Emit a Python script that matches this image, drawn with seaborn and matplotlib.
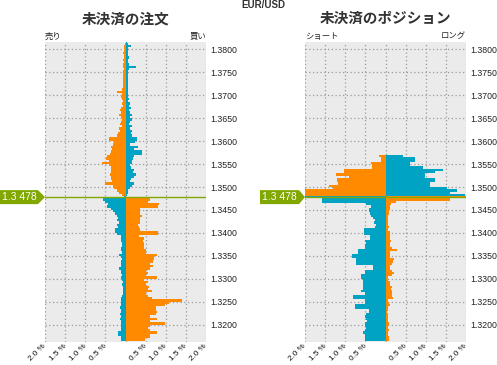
import numpy as np
import pandas as pd
import matplotlib
matplotlib.use('Agg')
import matplotlib.pyplot as plt
import seaborn as sns
from matplotlib.patches import Polygon
from matplotlib.transforms import blended_transform_factory

sns.set_style('white')
plt.rcParams['font.family'] = ['Liberation Sans', 'Noto Sans CJK JP', 'DejaVu Sans']

# ---------------- data ----------------
pair = "EUR/USD"
current_price = 1.3478
current_label = "1.3 478"
bucket = 0.0005

# lower edges of the price buckets (top to bottom)
price_levels = [
    1.3815, 1.3810, 1.3805, 1.3800, 1.3795, 1.3790, 1.3785, 1.3780, 1.3775, 1.3770,
    1.3765, 1.3760, 1.3755, 1.3750, 1.3745, 1.3740, 1.3735, 1.3730, 1.3725, 1.3720,
    1.3715, 1.3710, 1.3705, 1.3700, 1.3695, 1.3690, 1.3685, 1.3680, 1.3675, 1.3670,
    1.3665, 1.3660, 1.3655, 1.3650, 1.3645, 1.3640, 1.3635, 1.3630, 1.3625, 1.3620,
    1.3615, 1.3610, 1.3605, 1.3600, 1.3595, 1.3590, 1.3585, 1.3580, 1.3575, 1.3570,
    1.3565, 1.3560, 1.3555, 1.3550, 1.3545, 1.3540, 1.3535, 1.3530, 1.3525, 1.3520,
    1.3515, 1.3510, 1.3505, 1.3500, 1.3495, 1.3490, 1.3485, 1.3480, 1.3475, 1.3470,
    1.3465, 1.3460, 1.3455, 1.3450, 1.3445, 1.3440, 1.3435, 1.3430, 1.3425, 1.3420,
    1.3415, 1.3410, 1.3405, 1.3400, 1.3395, 1.3390, 1.3385, 1.3380, 1.3375, 1.3370,
    1.3365, 1.3360, 1.3355, 1.3350, 1.3345, 1.3340, 1.3335, 1.3330, 1.3325, 1.3320,
    1.3315, 1.3310, 1.3305, 1.3300, 1.3295, 1.3290, 1.3285, 1.3280, 1.3275, 1.3270,
    1.3265, 1.3260, 1.3255, 1.3250, 1.3245, 1.3240, 1.3235, 1.3230, 1.3225, 1.3220,
    1.3215, 1.3210, 1.3205, 1.3200, 1.3195, 1.3190, 1.3185, 1.3180, 1.3175, 1.3170,
    1.3165,
]

# open orders (%): left side / right side
orders_left = [
    0.00, 0.02, 0.03, 0.04, 0.03, 0.05, 0.04, 0.03, 0.05, 0.04,
    0.06, 0.05, 0.04, 0.06, 0.05, 0.07, 0.05, 0.06, 0.05, 0.07,
    0.06, 0.08, 0.22, 0.09, 0.12, 0.08, 0.06, 0.09, 0.07, 0.10,
    0.13, 0.10, 0.17, 0.12, 0.08, 0.11, 0.14, 0.09, 0.15, 0.13,
    0.18, 0.22, 0.42, 0.42, 0.29, 0.30, 0.35, 0.33, 0.35, 0.38,
    0.45, 0.48, 0.40, 0.58, 0.40, 0.37, 0.37, 0.36, 0.38, 0.35,
    0.37, 0.34, 0.50, 0.30, 0.28, 0.22, 0.15, 0.08, 0.03, 0.55,
    0.50, 0.43, 0.45, 0.35, 0.30, 0.25, 0.22, 0.18, 0.20, 0.17,
    0.22, 0.18, 0.25, 0.25, 0.20, 0.12, 0.10, 0.12, 0.09, 0.08,
    0.12, 0.10, 0.08, 0.15, 0.10, 0.08, 0.12, 0.10, 0.12, 0.17,
    0.12, 0.10, 0.09, 0.10, 0.08, 0.07, 0.08, 0.07, 0.06, 0.07,
    0.06, 0.08, 0.10, 0.12, 0.10, 0.12, 0.14, 0.10, 0.12, 0.14,
    0.11, 0.13, 0.12, 0.10, 0.12, 0.10, 0.12, 0.18, 0.18, 0.10,
    0.10,
]
orders_right = [
    0.04, 0.05, 0.13, 0.06, 0.05, 0.07, 0.06, 0.08, 0.05, 0.07,
    0.08, 0.26, 0.08, 0.05, 0.06, 0.05, 0.07, 0.06, 0.05, 0.06,
    0.07, 0.05, 0.06, 0.07, 0.05, 0.08, 0.06, 0.10, 0.08, 0.13,
    0.09, 0.12, 0.15, 0.10, 0.17, 0.12, 0.09, 0.15, 0.11, 0.17,
    0.13, 0.15, 0.29, 0.28, 0.24, 0.12, 0.32, 0.22, 0.42, 0.42,
    0.20, 0.18, 0.15, 0.16, 0.12, 0.13, 0.22, 0.18, 0.27, 0.20,
    0.14, 0.10, 0.22, 0.15, 0.10, 0.07, 0.05, 0.03, 0.00, 0.60,
    0.55, 0.83, 0.80, 0.37, 0.37, 0.35, 0.40, 0.35, 0.35, 0.35,
    0.30, 0.33, 0.35, 0.80, 0.80, 0.34, 0.45, 0.44, 0.46, 0.45,
    0.47, 0.50, 0.52, 0.78, 0.70, 0.72, 0.68, 0.62, 0.68, 0.60,
    0.52, 0.55, 0.50, 0.78, 0.45, 0.55, 0.50, 0.58, 0.55, 0.65,
    0.52, 0.55, 0.65, 1.40, 1.07, 0.98, 0.76, 0.75, 0.78, 0.75,
    0.60, 0.78, 0.62, 0.99, 0.60, 0.55, 0.60, 0.78, 0.62, 0.60,
    0.49,
]

# open positions (%): left side / right side
positions_left = [
    0.00, 0.00, 0.00, 0.00, 0.00, 0.00, 0.00, 0.00, 0.00, 0.00,
    0.00, 0.00, 0.00, 0.00, 0.00, 0.00, 0.00, 0.00, 0.00, 0.00,
    0.00, 0.00, 0.00, 0.00, 0.00, 0.00, 0.00, 0.00, 0.00, 0.00,
    0.00, 0.00, 0.00, 0.00, 0.00, 0.00, 0.00, 0.00, 0.00, 0.00,
    0.00, 0.00, 0.00, 0.00, 0.00, 0.00, 0.00, 0.00, 0.00, 0.00,
    0.15, 0.12, 0.10, 0.36, 0.33, 0.33, 1.02, 1.02, 1.23, 0.90,
    1.20, 1.20, 1.18, 1.40, 1.30, 2.05, 2.05, 2.05, 2.05, 1.58,
    1.57, 0.48, 0.36, 0.42, 0.40, 0.38, 0.35, 0.30, 0.25, 0.28,
    0.23, 0.25, 0.54, 0.54, 0.54, 0.38, 0.38, 0.50, 0.48, 0.50,
    0.52, 0.69, 0.69, 0.84, 0.84, 0.74, 0.74, 0.74, 0.30, 0.30,
    0.50, 0.50, 0.62, 0.62, 0.55, 0.57, 0.57, 0.57, 0.55, 0.62,
    0.52, 0.80, 0.80, 0.50, 0.52, 0.75, 0.75, 0.40, 0.42, 0.48,
    0.50, 0.48, 0.45, 0.52, 0.50, 0.48, 0.52, 0.55, 0.50, 0.52,
    0.50,
]
positions_right = [
    0.00, 0.00, 0.00, 0.00, 0.00, 0.00, 0.00, 0.00, 0.00, 0.00,
    0.00, 0.00, 0.00, 0.00, 0.00, 0.00, 0.00, 0.00, 0.00, 0.00,
    0.00, 0.00, 0.00, 0.00, 0.00, 0.00, 0.00, 0.00, 0.00, 0.00,
    0.00, 0.00, 0.00, 0.00, 0.00, 0.00, 0.00, 0.00, 0.00, 0.00,
    0.00, 0.00, 0.00, 0.00, 0.00, 0.00, 0.00, 0.00, 0.00, 0.00,
    0.43, 0.73, 0.73, 0.60, 0.60, 0.93, 1.43, 1.22, 0.97, 0.97,
    1.22, 1.22, 1.10, 1.10, 1.54, 1.77, 1.60, 1.98, 2.05, 1.60,
    0.27, 0.14, 0.10, 0.12, 0.08, 0.09, 0.07, 0.06, 0.05, 0.07,
    0.06, 0.08, 0.07, 0.10, 0.10, 0.12, 0.10, 0.13, 0.10, 0.12,
    0.15, 0.29, 0.12, 0.10, 0.12, 0.20, 0.18, 0.15, 0.10, 0.12,
    0.17, 0.20, 0.15, 0.05, 0.06, 0.12, 0.10, 0.15, 0.14, 0.15,
    0.16, 0.17, 0.18, 0.07, 0.08, 0.12, 0.05, 0.05, 0.04, 0.07,
    0.06, 0.07, 0.06, 0.08, 0.06, 0.07, 0.08, 0.07, 0.06, 0.08,
    0.08,
]

panel_titles = ["未決済の注文", "未決済のポジション"]
side_labels = [("売り", "買い"), ("ショート", "ロング")]
x_ticks = [-2.0, -1.5, -1.0, -0.5, 0.0, 0.5, 1.0, 1.5, 2.0]
x_ticklabels = ["2.0 %", "1.5 %", "1.0 %", "0.5 %", "", "0.5 %", "1.0 %", "1.5 %", "2.0 %"]
y_ticks = [1.3200, 1.3250, 1.3300, 1.3350, 1.3400, 1.3450, 1.3500,
           1.3550, 1.3600, 1.3650, 1.3700, 1.3750, 1.3800]

# ---------------- style ----------------
ORANGE = "#ff8a00"
TEAL = "#00a3c3"
GREEN = "#80a800"
BG = "#ebebeb"
W, H = 497, 365

fig = plt.figure(figsize=(W / 100, H / 100), dpi=100)
fig.patch.set_facecolor("white")


def fx(px):
    return px / W


def fy(py):
    return 1 - py / H


ax_top, ax_bot = 41.7, 342.0
axes_x = [45, 305]
ax_w = 161


def make_df(left, right):
    centers = [p + bucket / 2 for p in price_levels]
    above = [p >= current_price for p in price_levels]
    rows = []
    for c, a, l, r in zip(centers, above, left, right):
        rows.append((c, -l, "orange" if a else "teal"))
        rows.append((c, r, "teal" if a else "orange"))
    return pd.DataFrame(rows, columns=["price", "value", "kind"])


panels = [(orders_left, orders_right), (positions_left, positions_right)]

for i, (left, right) in enumerate(panels):
    x0 = axes_x[i]
    ax = fig.add_axes([fx(x0), fy(ax_bot), fx(ax_w), (ax_bot - ax_top) / H])
    df = make_df(left, right)
    sns.barplot(data=df, x="value", y="price", hue="kind",
                palette={"orange": ORANGE, "teal": TEAL},
                orient="y", native_scale=True, width=1.0, dodge=False,
                errorbar=None, legend=False, saturation=1, linewidth=0, ax=ax)
    ax.set_facecolor(BG)
    ax.set_xlim(-2.0, 2.0)
    ax.set_ylim(1.3162, 1.3817)
    ax.set_xlabel("")
    ax.set_ylabel("")
    for s in ax.spines.values():
        s.set_visible(False)
    ax.set_axisbelow(True)
    ax.grid(True, color="#9a9a9a", linestyle=(0, (1, 2)), linewidth=0.9)

    ax.set_yticks(y_ticks)
    ax.set_yticklabels([f"{v:.4f}" for v in y_ticks], fontsize=6.3, color="#222222")
    ax.yaxis.tick_right()
    ax.tick_params(axis="y", length=0, pad=2.8)

    ax.set_xticks(x_ticks)
    ax.set_xticklabels(x_ticklabels, rotation=45, ha="right", va="center",
                       rotation_mode="anchor", fontsize=5.9, color="#111111")
    ax.tick_params(axis="x", length=0, pad=2.2)

    # current price line
    ax.axhline(current_price, color=GREEN, linewidth=1.0, zorder=5)

    # current price marker
    tr = blended_transform_factory(fig.transFigure, ax.transData)
    hh = 7.0 / ((ax_bot - ax_top) / (1.3817 - 1.3162))
    if i == 0:
        bx0, bx1, tip = 0, 38, 45
    else:
        bx0, bx1, tip = 260, 299, 305
    poly = Polygon([(fx(bx0), current_price - hh), (fx(bx1), current_price - hh),
                    (fx(tip), current_price), (fx(bx1), current_price + hh),
                    (fx(bx0), current_price + hh)],
                   closed=True, facecolor=GREEN, edgecolor="none",
                   transform=tr, clip_on=False, zorder=6)
    ax.add_patch(poly)
    ax.text(fx((bx0 + bx1) / 2), current_price, current_label, transform=tr,
            ha="center", va="center", fontsize=7.5, color="white",
            clip_on=False, zorder=7)

    # titles and side labels
    fig.text(fx(x0 + ax_w / 2), fy(18), panel_titles[i], ha="center", va="center",
             fontsize=10.5, fontweight="bold", family="Noto Sans CJK JP",
             color="#333333")
    fig.text(fx(x0), fy(36), side_labels[i][0], ha="left", va="center",
             fontsize=6, family="Noto Sans CJK JP", color="#222222")
    fig.text(fx(x0 + ax_w), fy(36), side_labels[i][1], ha="right", va="center",
             fontsize=6, family="Noto Sans CJK JP", color="#222222")

fig.text(fx(263), fy(5), pair, ha="center", va="center", fontsize=7,
         fontweight="bold", color="#333333")

fig.savefig("out.png", dpi=100)
